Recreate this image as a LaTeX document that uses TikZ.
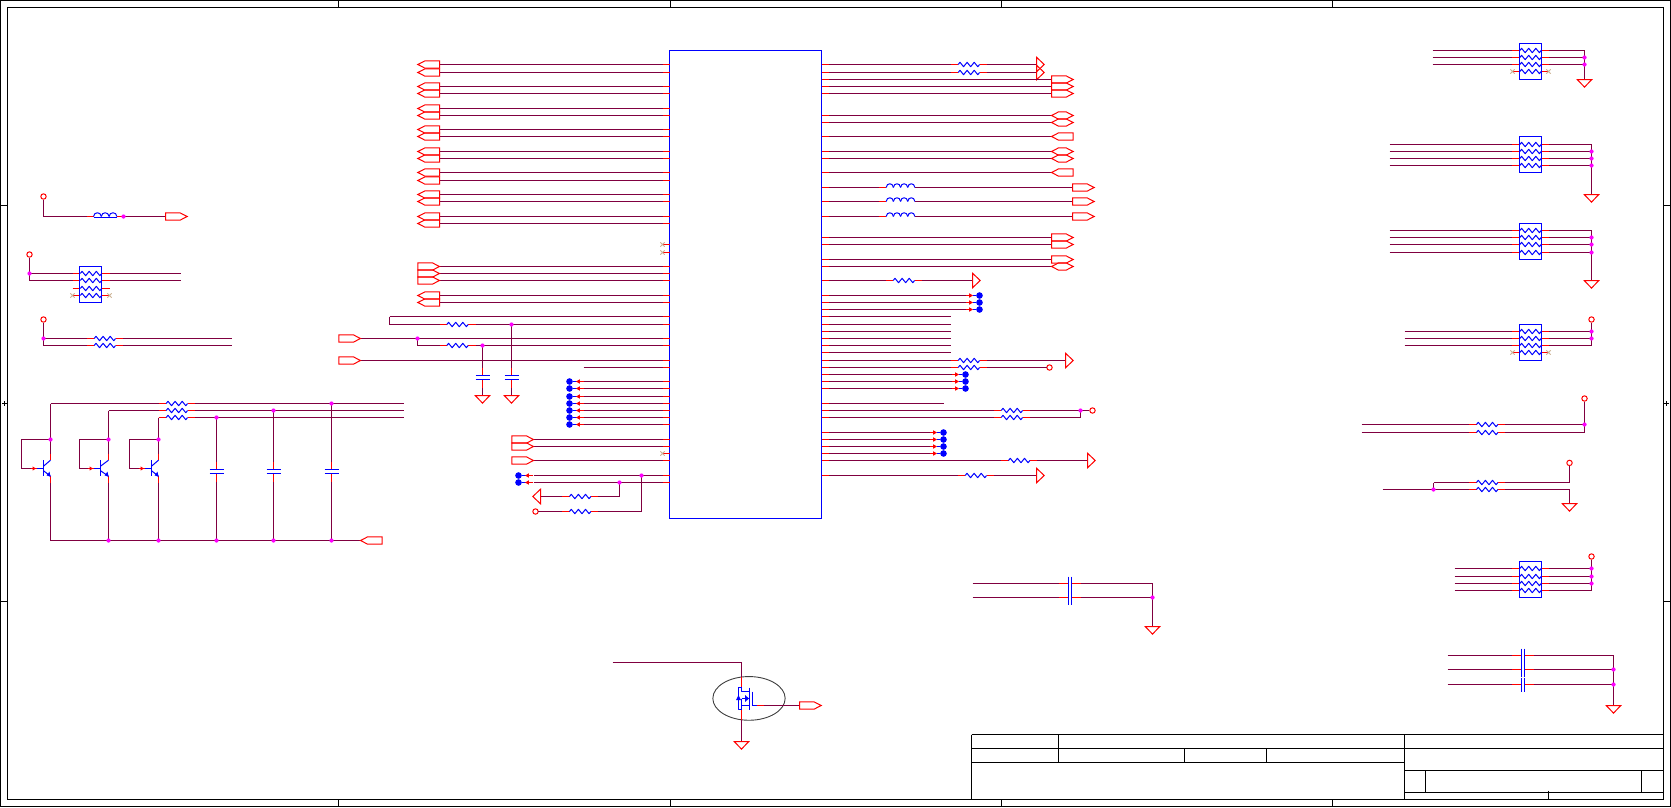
\documentclass[tikz,border=0pt]{standalone}
\usetikzlibrary{shapes.geometric}
\definecolor{wirec}{RGB}{128,0,64}
\definecolor{ncc}{RGB}{205,180,150}
\definecolor{juncc}{RGB}{255,0,255}
\tikzset{
  x=1pt,y=-1pt,
  wire/.style={draw=wirec,line width=1pt,line join=miter},
  stub/.style={draw=red,line width=1pt},
  comp/.style={draw=blue,line width=1pt,line join=round},
  sigport/.style={draw=red,line width=1pt,line join=miter},
  frameline/.style={draw=black,line width=1pt},
  junc/.style={circle,fill=juncc,minimum size=4.2pt,inner sep=0pt,draw=none},
  term/.style={circle,draw=red,fill=white,line width=1pt,minimum size=5.4pt,inner sep=0pt},
  bigdot/.style={circle,fill=blue,minimum size=6.6pt,inner sep=0pt,draw=none},
  packbox/.style={rectangle,draw=blue,line width=1pt,minimum width=22pt,minimum height=36pt,inner sep=0pt},
  chipbox/.style={rectangle,draw=blue,line width=1pt,inner sep=0pt},
}
% zigzag resistor
\newcommand\rzig[2]{\draw[comp] ({#1-10.7},#2) -- ++(1.78,-2.2) -- ++(3.56,4.4) -- ++(3.56,-4.4) -- ++(3.56,4.4) -- ++(3.56,-4.4) -- ++(3.56,4.4) -- ++(1.78,-2.2);}
% plain wire with named ends
\newcommand\hw[4]{\coordinate (#1a) at (#2,#4);\coordinate (#1b) at (#3,#4);\draw[wire] (#1a) -- (#1b);}
% wire with resistor
\newcommand\hwR[5]{\coordinate (#1a) at (#2,#5);\coordinate (#1l) at ({#3-18},#5);\coordinate (#1r) at ({#3+18},#5);\coordinate (#1b) at (#4,#5);
  \draw[wire] (#1a) -- (#1l);\draw[wire] (#1r) -- (#1b);
  \draw[stub] (#1l) -- ({#3-10.7},#5);\draw[stub] ({#3+10.7},#5) -- (#1r);\rzig{#3}{#5}}
% wire with capacitor (plates vertical)
\newcommand\hwC[5]{\coordinate (#1a) at (#2,#5);\coordinate (#1l) at ({#3-11},#5);\coordinate (#1r) at ({#3+11},#5);\coordinate (#1b) at (#4,#5);
  \draw[wire] (#1a) -- (#1l);\draw[wire] (#1r) -- (#1b);
  \draw[stub] (#1l) -- ({#3-1.5},#5);\draw[stub] ({#3+1.5},#5) -- (#1r);
  \draw[comp] ({#3-1.5},{#5-7}) -- ({#3-1.5},{#5+7});\draw[comp] ({#3+1.5},{#5-7}) -- ({#3+1.5},{#5+7});}
% humps: x0 y n width
\newcommand\humps[4]{\foreach \k in {1,...,#3}{\draw[comp] ({#1+(\k-1)*#4},#2) .. controls ({#1+(\k-1)*#4+0.4},{#2-5}) and ({#1+\k*#4-0.4},{#2-5}) .. ({#1+\k*#4},#2);}}
% vertical-axis capacitor
\newcommand\plateV[2]{\draw[stub] (#1,{#2-10}) -- (#1,{#2-2});\draw[stub] (#1,{#2+2}) -- (#1,{#2+10});
  \draw[comp] ({#1-7},{#2-2}) -- ({#1+7},{#2-2});\draw[comp] ({#1-7},{#2+2}) -- ({#1+7},{#2+2});}
% signal ports: x (left end) y
\newcommand\portR[2]{\draw[sigport] (#1,{#2-3.7}) -- ({#1+14.5},{#2-3.7}) -- ({#1+21.7},#2) -- ({#1+14.5},{#2+3.7}) -- (#1,{#2+3.7}) -- cycle;}
\newcommand\portL[2]{\draw[sigport] ({#1+21.7},{#2-3.7}) -- ({#1+7.2},{#2-3.7}) -- (#1,#2) -- ({#1+7.2},{#2+3.7}) -- ({#1+21.7},{#2+3.7}) -- cycle;}
\newcommand\portB[2]{\draw[sigport] (#1,#2) -- ({#1+7.2},{#2-3.7}) -- ({#1+14.5},{#2-3.7}) -- ({#1+21.7},#2) -- ({#1+14.5},{#2+3.7}) -- ({#1+7.2},{#2+3.7}) -- cycle;}
\newcommand\triR[2]{\draw[sigport] (#1,{#2-7.3}) -- ({#1+7.7},#2) -- (#1,{#2+7.3}) -- cycle;}
\newcommand\triL[2]{\draw[sigport] (#1,{#2-7.3}) -- ({#1-7.7},#2) -- (#1,{#2+7.3}) -- cycle;}
\newcommand\GndT[2]{\draw[sigport] ({#1-7.3},#2) -- ({#1+7.3},#2) -- (#1,{#2+7.6}) -- cycle;}
% pin into chip
\newcommand\lpin[3]{\hw{#1}{#2}{662.3}{#3}\draw[stub] (#1b) -- (669.3,#3);}
\newcommand\rpin[3]{\hw{#1}{828.3}{#2}{#3}\draw[stub] (821.3,#3) -- (#1a);}
\newcommand\rpinR[4]{\draw[stub] (821.3,#4) -- (828.3,#4);\hwR{#1}{828.3}{#2}{#3}{#4}}
% inductor pin
\newcommand\rpinL[3]{\coordinate (#1a) at (828.3,#3);\coordinate (#1l) at (878.3,#3);\coordinate (#1r) at (914.7,#3);\coordinate (#1b) at (#2,#3);
  \draw[stub] (821.3,#3) -- (#1a);\draw[wire] (#1a) -- (#1l);\draw[stub] (#1l) -- (886,#3);\draw[wire] (#1r) -- (#1b);\humps{886}{#3}{4}{7.17}}
% blue test dots
\newcommand\dotLft[3]{\node[bigdot] (#1) at (#2,#3) {};\draw[comp] (#1) -- ({#2+7},#3);
  \fill[red] ({#2+6.5},#3) -- ({#2+10.3},{#3-2.2}) -- ({#2+10.3},{#3+2.2}) -- cycle;\draw[stub] ({#2+10},#3) -- ({#2+14},#3);}
\newcommand\dotRgt[3]{\node[bigdot] (#1) at (#2,#3) {};\draw[comp] (#1) -- ({#2-7},#3);
  \fill[red] ({#2-6.5},#3) -- ({#2-10.3},{#3-2.2}) -- ({#2-10.3},{#3+2.2}) -- cycle;\draw[stub] ({#2-10},#3) -- ({#2-14},#3);}
% no connect
\newcommand\ncmark[2]{\draw[draw=ncc,line width=0.8pt] ({#1-2.2},{#2-2.2}) -- ({#1+2.2},{#2+2.2}) ({#1-2.2},{#2+2.2}) -- ({#1+2.2},{#2-2.2});}
% row of a resistor pack
\newcommand\packrow[2]{\draw[stub] ({#1-18.5},#2) -- ({#1-10.7},#2);\draw[stub] ({#1+10.7},#2) -- ({#1+18.5},#2);\rzig{#1}{#2}}
\begin{document}
\begin{tikzpicture}
\useasboundingbox (0,0) rectangle (1671,807);
\fill[white] (0,0) rectangle (1671,807);
\begin{scope}[shift={(0.2,0.2)}]
% ---------- frame ----------
\draw[frameline] (0.3,0.3) rectangle (1670.3,806.3);
\draw[frameline] (7.3,7.3) rectangle (1663.3,799.3);
\foreach \x in {338.3,670.3,1001.3,1332.3}{\draw[frameline] (\x,0.3) -- (\x,7.3);\draw[frameline] (\x,799.3) -- (\x,806.3);}
\foreach \y in {205.3,601.3}{\draw[frameline] (0.3,\y) -- (7.3,\y);\draw[frameline] (1663.3,\y) -- (1670.3,\y);}
\draw[frameline] (2,403.3) -- (7.3,403.3) (4.3,401) -- (4.3,406);
\draw[frameline] (1663.3,403.3) -- (1669,403.3) (1666.3,401) -- (1666.3,406);
% title block
\draw[frameline] (971.3,734.3) -- (1663.3,734.3) (971.3,748.3) -- (1663.3,748.3) (971.3,762.3) -- (1404.3,762.3)
  (1404.3,770.3) -- (1663.3,770.3) (1404.3,792.3) -- (1663.3,792.3)
  (971.3,734.3) -- (971.3,799.3) (1058.3,734.3) -- (1058.3,762.3) (1184.3,748.3) -- (1184.3,762.3) (1266.3,748.3) -- (1266.3,762.3)
  (1404.3,734.3) -- (1404.3,799.3) (1425.3,770.3) -- (1425.3,792.3) (1641.3,770.3) -- (1641.3,792.3) (1548.3,790.3) -- (1548.3,799.3);
% ---------- chip ----------
\node[chipbox,minimum width=152pt,minimum height=468pt] (U1) at (745.3,284.3) {};
% ---------- left rows with ports ----------
\foreach \y [count=\i] in {64.3,72.3,86.3,93.3,108.3,115.3,129.3,136.3,151.3,158.3,172.3,180.3,194.3,201.3,216.3,223.3,295.3,302.3}{
  \lpin{LA\i}{439.3}{\y}\portL{417.6}{\y}}
\foreach \y [count=\i] in {266.3,273.3,280.3}{\lpin{LB\i}{439.3}{\y}\portR{417.6}{\y}}
\foreach \y in {244.3,252.3,453.3}{\draw[stub] (662.3,\y) -- (669.3,\y);\ncmark{662.3}{\y}}
% ---------- resistors into chip, caps ----------
\lpin{LC1}{389.3}{316.3}
\hwR{LC2}{389.3}{457.3}{662.3}{324.3}\draw[stub] (LC2b) -- (669.3,324.3);
\draw[wire] (LC1a) -- (LC2a);
\lpin{LD1}{360.3}{338.3}\portR{338.6}{338.3}
\coordinate (LD1j) at (417.3,338.3);
\hwR{LD2}{417.3}{457.3}{662.3}{345.3}\draw[stub] (LD2b) -- (669.3,345.3);
\draw[wire] (LD1j) -- (LD2a);
\node[junc] (jD1) at (LD1j) {};
\lpin{LE1}{360.3}{360.3}\portR{338.6}{360.3}
\lpin{LE2}{583.3}{367.3}
\coordinate (cs1) at (482.3,345.3);\coordinate (cs2) at (511.3,324.3);
\coordinate (c1t) at (482.3,367.3);\coordinate (c1b) at (482.3,387.3);\coordinate (g1) at (482.3,395.3);
\coordinate (c2t) at (511.3,367.3);\coordinate (c2b) at (511.3,387.3);\coordinate (g2) at (511.3,395.3);
\draw[wire] (cs1) -- (c1t);\draw[wire] (c1b) -- (g1);\draw[wire] (cs2) -- (c2t);\draw[wire] (c2b) -- (g2);
\plateV{482.3}{377.3}\plateV{511.3}{377.3}\GndT{482.3}{395.3}\GndT{511.3}{395.3}
\node[junc] (jc1) at (cs1) {};\node[junc] (jc2) at (cs2) {};
% dots
\foreach \y [count=\i] in {381.3,388.3,396.3,403.3,410.3,417.3,424.3}{\lpin{LF\i}{583.3}{\y}\dotLft{df\i}{569.3}{\y}}
% ports lower
\foreach \y [count=\i] in {439.3,446.3,460.3}{\lpin{LG\i}{533.3}{\y}\portR{511.6}{\y}}
\lpin{LH1}{533.3}{475.3}\dotLft{dh1}{518.3}{475.3}
\lpin{LH2}{533.3}{482.3}\dotLft{dh2}{518.3}{482.3}
\coordinate (h2j) at (619.3,482.3);\coordinate (h1j) at (641.3,475.3);
\hwR{LR1}{540.3}{580}{619.3}{496.3}\triL{540.3}{496.3}
\node[term] (tL) at (535.3,511.3) {};
\hwR{LR2}{537.6}{580}{641.3}{511.3}
\draw[wire] (h2j) -- (LR1b);\draw[wire] (h1j) -- (LR2b);
\node[junc] (jh1) at (h1j) {};\node[junc] (jh2) at (h2j) {};
% ---------- right rows ----------
\foreach \y [count=\i] in {64.3,72.3}{\rpinR{RA\i}{968.7}{1036.3}{\y}\triR{1036.3}{\y}}
\foreach \y [count=\i] in {79.3,86.3,93.3,237.3,244.3,259.3}{\rpin{RB\i}{1051.3}{\y}\portR{1051.3}{\y}}
\foreach \y [count=\i] in {115.3,122.3,151.3,158.3,266.3}{\rpin{RC\i}{1051.3}{\y}\portB{1051.3}{\y}}
\foreach \y [count=\i] in {136.3,172.3}{\rpin{RD\i}{1051.3}{\y}\portL{1051.3}{\y}}
\foreach \y [count=\i] in {187.3,201.3,216.3}{\rpinL{RE\i}{1072.3}{\y}\portR{1072.3}{\y}}
\rpinR{RF1}{903.7}{972.3}{280.3}\triR{972.3}{280.3}
\foreach \y [count=\i] in {295.3,302.3,309.3}{\rpin{RG\i}{965.3}{\y}\dotRgt{dg\i}{979.3}{\y}}
\foreach \y [count=\i] in {316.3,324.3,331.3,338.3,345.3,352.3}{\rpin{RH\i}{950.3}{\y}}
\rpinR{RI1}{968.7}{1065.3}{360.3}\triR{1065.3}{360.3}
\node[term] (tR1) at (1049.3,367.3) {};
\rpinR{RI2}{968.7}{1046.5}{367.3}
\foreach \y [count=\i] in {374.3,381.3,388.3}{\rpin{RJ\i}{951.3}{\y}\dotRgt{dj\i}{965.3}{\y}}
\rpin{RK}{943.3}{403.3}
\rpinR{RL1}{1011.7}{1080.3}{410.3}\rpinR{RL2}{1011.7}{1080.3}{417.3}
\draw[wire] (RL1b) -- (RL2b);
\node[term] (tR2) at (1092.3,410.3) {};
\draw[wire] (RL1b) -- (tR2);
\node[junc] (jR1) at (RL1b) {};
\foreach \y [count=\i] in {432.3,439.3,446.3,453.3}{\rpin{RM\i}{929.3}{\y}\dotRgt{dm\i}{943.3}{\y}}
\rpinR{RN1}{1019}{1087.3}{460.3}\triR{1087.3}{460.3}
\rpinR{RN2}{975.7}{1036.3}{475.3}\triR{1036.3}{475.3}
% ---------- top left supplies ----------
\node[term] (tA) at (43.3,196.3) {};
\coordinate (bA) at (43.3,216.3);\coordinate (bB) at (86.3,216.3);\coordinate (bC) at (123.3,216.3);\coordinate (bD) at (165.3,216.3);
\draw[wire] (tA) -- (bA) -- (bB);\draw[wire] (bC) -- (bD);
\draw[stub] (bB) -- (93.3,216.3);\draw[stub] (116.7,216.3) -- (bC);
\humps{93.3}{216.3}{3}{7.8}\draw[comp] (93.3,217.3) -- (116.7,217.3);
\node[junc] (jA) at (bC) {};\portR{165.3}{216.3}
\node[term] (tB) at (29.3,254.3) {};
\foreach \y [count=\i] in {273.3,280.3}{\hw{PL\i}{29.3}{72.3}{\y}\hw{PR\i}{109.3}{180.3}{\y}}
\draw[wire] (tB) -- (PL2a);\node[junc] (jB) at (PL1a) {};
\foreach \y in {273.3,280.3,288.3,295.3}{\packrow{90.8}{\y}}
\node[packbox] (PK1) at (90.3,284.3) {};
\ncmark{72.3}{295.3}\ncmark{109.3}{295.3}
\node[term] (tC) at (43.3,319.3) {};
\foreach \y [count=\i] in {338.3,345.3}{\hwR{SR\i}{43.3}{104.7}{231.3}{\y}}
\draw[wire] (tC) -- (SR2a);\node[junc] (jC) at (SR1a) {};
% ---------- transistors & caps ----------
\foreach \x/\l/\bb/\y/\n in {50.3/21.3/43.3/403.3/1,108.3/79.3/100.3/410.3/2,158.3/129.3/151.3/417.3/3}{
  \hwR{Q\n}{\x}{176.7}{403.3}{\y}
  \coordinate (Qc\n) at (\x,453.3);\coordinate (Qj\n) at (\x,439.3);\coordinate (Qe\n) at (\x,482.3);\coordinate (Qg\n) at (\x,540.3);
  \draw[wire] (Q\n a) -- (Qc\n);\draw[wire] (Qe\n) -- (Qg\n);
  \draw[stub] (Qc\n) -- (\x,460);\draw[stub] (\x,476) -- (Qe\n);
  \draw[wire] (Qj\n) -- (\l,439.3) -- (\l,468.3) -- ({\bb-13},468.3);
  \draw[stub] ({\bb-13},468.3) -- ({\bb-7},468.3);
  \fill[red] ({\bb-7.5},468.3) -- ({\bb-11},466.2) -- ({\bb-11},470.4) -- cycle;
  \draw[comp] ({\bb-7},468.3) -- (\bb,468.3);
  \draw[comp,line width=1.6pt] (\bb,460) -- (\bb,476);
  \draw[comp] (\bb,466) -- (\x,460) (\bb,470.5) -- (\x,476);
  \fill[blue] (\x,476.5) -- ({\x-4},475.2) -- ({\x-1},471.5) -- cycle;
  \node[junc] (jQ\n) at (Qj\n) {};
}
\hw{BUS}{50.3}{360.3}{540.3}\portL{360.3}{540.3}
\foreach \x/\y/\n in {216.3/417.3/1,273.3/410.3/2,331.3/403.3/3}{
  \coordinate (Ct\n) at (\x,\y);\coordinate (Cp\n) at (\x,461.3);\coordinate (Cq\n) at (\x,481.3);\coordinate (Cb\n) at (\x,540.3);
  \draw[wire] (Ct\n) -- (Cp\n);\draw[wire] (Cq\n) -- (Cb\n);
  \plateV{\x}{471.3}
  \node[junc] (jCt\n) at (Ct\n) {};\node[junc] (jCb\n) at (Cb\n) {};
}
\foreach \n in {2,3}{\node[junc] (jG\n) at (Qg\n) {};}
% ---------- right hand resistor packs ----------
% group A
\foreach \y [count=\i] in {50.3,57.3,64.3}{\hw{AL\i}{1432.3}{1512.3}{\y}\hw{AR\i}{1548.3}{1584.3}{\y}\packrow{1530.3}{\y}}
\packrow{1530.3}{71.3}\ncmark{1512.3}{71.3}\ncmark{1548.3}{71.3}
\node[packbox] (PKA) at (1530.3,61.3) {};
\coordinate (gA) at (1584.3,79.3);\draw[wire] (AR1b) -- (gA);\GndT{1584.3}{79.3}
\node[junc] (jA2) at (AR2b) {};\node[junc] (jA3) at (AR3b) {};
% group B
\foreach \y [count=\i] in {144.3,151.3,158.3,165.3}{\hw{BL\i}{1389.3}{1512.3}{\y}\hw{BR\i}{1548.3}{1591.3}{\y}\packrow{1530.3}{\y}}
\node[packbox] (PKB) at (1530.3,154.3) {};
\coordinate (gB) at (1591.3,194.3);\draw[wire] (BR1b) -- (gB);\GndT{1591.3}{194.3}
\foreach \i in {2,3,4}{\node[junc] (jB\i) at (BR\i b) {};}
% group C
\foreach \y [count=\i] in {230.3,237.3,244.3,252.3}{\hw{CL\i}{1389.3}{1512.3}{\y}\hw{CR\i}{1548.3}{1591.3}{\y}\packrow{1530.3}{\y}}
\node[packbox] (PKC) at (1530.3,241.3) {};
\coordinate (gC) at (1591.3,280.3);\draw[wire] (CR1b) -- (gC);\GndT{1591.3}{280.3}
\foreach \i in {2,3,4}{\node[junc] (jC\i) at (CR\i b) {};}
% group D
\foreach \y [count=\i] in {331.3,338.3,345.3}{\hw{DL\i}{1404.3}{1512.3}{\y}\hw{DR\i}{1548.3}{1591.3}{\y}\packrow{1530.3}{\y}}
\packrow{1530.3}{352.3}\ncmark{1512.3}{352.3}\ncmark{1548.3}{352.3}
\node[packbox] (PKD) at (1530.3,342.3) {};
\node[term] (tD) at (1591.3,319.3) {};\draw[wire] (DR3b) -- (tD);
\node[junc] (jD1b) at (DR1b) {};\node[junc] (jD2b) at (DR2b) {};
% group E
\foreach \y [count=\i] in {424.3,432.3}{\hwR{ER\i}{1361.3}{1487}{1584.3}{\y}}
\node[term] (tE) at (1584.3,398.3) {};\draw[wire] (ER2b) -- (tE);\node[junc] (jE) at (ER1b) {};
% group F
\hwR{FR1}{1433.3}{1487}{1569.3}{482.3}
\hwR{FR2}{1382.3}{1487}{1569.3}{489.3}
\coordinate (fj) at (1433.3,489.3);\draw[wire] (fj) -- (FR1a);\node[junc] (jF) at (fj) {};
\node[term] (tF) at (1569.3,462.7) {};\draw[wire] (FR1b) -- (tF);
\coordinate (gF) at (1569.3,503.3);\draw[wire] (FR2b) -- (gF);\GndT{1569.3}{503.3}
% group G
\foreach \y [count=\i] in {568.3,576.3,583.3,590.3}{\hw{GL\i}{1454.3}{1512.3}{\y}\hw{GR\i}{1548.3}{1591.3}{\y}\packrow{1530.3}{\y}}
\node[packbox] (PKG) at (1530.3,579.3) {};
\node[term] (tG) at (1591.3,556.3) {};\draw[wire] (GR4b) -- (tG);
\foreach \i in {1,2,3}{\node[junc] (jG\i b) at (GR\i b) {};}
% group H caps
\foreach \y [count=\i] in {655.3,669.3,684.3}{\hwC{HC\i}{1447.3}{1522.8}{1613.3}{\y}}
\coordinate (gH) at (1613.3,705.3);\draw[wire] (HC1b) -- (gH);\GndT{1613.3}{705.3}
\node[junc] (jH2) at (HC2b) {};\node[junc] (jH3) at (HC3b) {};
% group I caps
\foreach \y [count=\i] in {583.3,597.3}{\hwC{IC\i}{972.3}{1069.8}{1152.3}{\y}}
\coordinate (gI) at (1152.3,626.3);\draw[wire] (IC1b) -- (gI);\GndT{1152.3}{626.3}
\node[junc] (jI2) at (IC2b) {};
% ---------- MOSFET ----------
\node[ellipse,draw=black!75,line width=0.9pt,minimum width=72.3pt,minimum height=43.7pt,inner sep=0pt] (ELL) at (748.8,698.2) {};
\coordinate (mA) at (612.3,662.3);\coordinate (mB) at (741.3,662.3);\coordinate (mC) at (741.3,676.7);
\draw[wire] (mA) -- (mB) -- (mC);\draw[stub] (mC) -- (741.3,686.3);
\coordinate (mD) at (741.3,719.3);\coordinate (mE) at (741.3,741.3);
\draw[stub] (741.3,709.3) -- (mD);\draw[wire] (mD) -- (mE);\GndT{741.3}{741.3}
\draw[comp] (741.3,686.3) -- (741.3,691.3) -- (749.3,691.3);
\draw[comp] (741.3,698.3) -- (749.3,698.3);
\draw[comp] (741.3,698.3) -- (741.3,709.3) (741.3,705.3) -- (749.3,705.3);
\draw[comp] (741.3,687.3) -- (738.3,687.3) -- (738.3,709.3) -- (741.3,709.3);
\draw[comp] (749.3,687.3) -- (749.3,709.3) (752.3,691.3) -- (752.3,705.3);
\fill[blue] (748.8,698.3) -- (745,695) -- (745,701.6) -- cycle;
\fill[blue] (738.3,695) -- (735.8,700) -- (740.8,700) -- cycle;
\coordinate (mG) at (763.3,705.3);\coordinate (mH) at (799.3,705.3);
\draw[comp] (752.3,705.3) -- (756.3,705.3);\draw[stub] (756.3,705.3) -- (mG);\draw[wire] (mG) -- (mH);\portR{799.3}{705.3}
\end{scope}
\end{tikzpicture}
\end{document}
